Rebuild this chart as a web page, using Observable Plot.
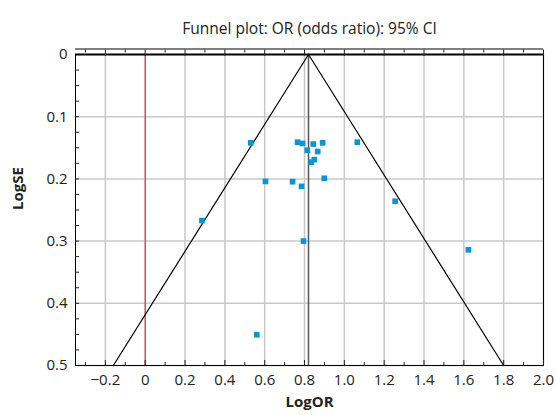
<!DOCTYPE html>
<html>
<head>
<meta charset="utf-8">
<script src="https://cdn.jsdelivr.net/npm/d3@7"></script>
<script src="https://cdn.jsdelivr.net/npm/@observablehq/plot@0.6"></script>
<style>
  html, body { margin: 0; padding: 0; background: white; }
</style>
</head>
<body>
<div id="chart"></div>
<script>
// Study estimates
const logOR = [0.530, 0.765, 0.790, 0.844, 0.891, 0.814, 0.866, 0.849, 0.834, 1.065,
               0.604, 0.740, 0.785, 0.899, 0.795, 0.285, 0.560, 1.255, 1.623];
const logSE = [0.142, 0.141, 0.143, 0.144, 0.142, 0.154, 0.156, 0.169, 0.173, 0.141,
               0.204, 0.2045, 0.212, 0.199, 0.300, 0.267, 0.4505, 0.236, 0.314];
const pooled = 0.82;
const z = 1.96;
const seMax = 0.5;

const xMajor = [-0.2, 0, 0.2, 0.4, 0.6, 0.8, 1.0, 1.2, 1.4, 1.6, 1.8, 2.0];
const xMinor = [-0.3, -0.1, 0.1, 0.3, 0.5, 0.7, 0.9, 1.1, 1.3, 1.5, 1.7, 1.9];
const yMajor = [0, 0.1, 0.2, 0.3, 0.4, 0.5];
const yMinor = [0.025, 0.05, 0.075, 0.1, 0.125, 0.15, 0.175, 0.2, 0.225, 0.25, 0.275,
                0.3, 0.325, 0.35, 0.375, 0.4, 0.425, 0.45, 0.475];

const titleText = "Funnel plot: OR (odds ratio): 95% CI";
const xLabel = "LogOR";
const yLabel = "LogSE";

const studies = logOR.map((x, i) => ({x, y: logSE[i]}));
const funnel = [
  {x: pooled - z * seMax, y: seMax},
  {x: pooled, y: 0},
  {x: pooled + z * seMax, y: seMax}
];
const fmt = d => d === 0 ? "0" : d3.format(".1f")(d);

const chart = Plot.plot({
  width: 556,
  height: 415,
  marginTop: 54,
  marginBottom: 50,
  marginLeft: 75,
  marginRight: 13,
  style: {fontFamily: "'Open Sans', sans-serif", fontSize: "15px", color: "#222", background: "white", overflow: "visible"},
  x: {domain: [-0.35, 2.0]},
  y: {domain: [0, 0.5], reverse: true},
  marks: [
    Plot.gridX(xMajor, {stroke: "#c8c8c8", strokeOpacity: 1, strokeWidth: 1.5}),
    Plot.gridY(yMajor.slice(1), {stroke: "#c8c8c8", strokeOpacity: 1, strokeWidth: 1.5}),
    Plot.ruleX([0], {stroke: "#e8141b", strokeWidth: 1}),
    Plot.ruleX([pooled], {stroke: "#555", strokeWidth: 1.5}),
    Plot.line(funnel, {x: "x", y: "y", stroke: "black", strokeWidth: 1.2}),
    Plot.dot(studies, {x: "x", y: "y", symbol: "square", r: 3.2, fill: "#0b95d8"}),
    Plot.frame({stroke: "black", strokeWidth: 1}),
    Plot.ruleY([0], {stroke: "black", strokeWidth: 2}),
    // top secondary axis line with hanging ticks
    Plot.ruleY([0], {stroke: "black", strokeWidth: 1, dy: -5.5}),
    Plot.axisX(xMajor, {anchor: "top", tickSize: 6, dy: 0.5, fill: "none", label: null}),
    Plot.axisX(xMinor, {anchor: "top", tickSize: 3, dy: -2.5, fill: "none", label: null}),
    // bottom inward ticks
    Plot.axisX(xMajor, {anchor: "bottom", tickSize: 5, dy: -5, fill: "none", label: null}),
    Plot.axisX(xMinor, {anchor: "bottom", tickSize: 3, dy: -3, fill: "none", label: null}),
    Plot.axisX(xMajor, {anchor: "bottom", tickSize: 0, tickPadding: 9, tickFormat: fmt, label: null}),
    // left inward ticks
    Plot.axisY(yMinor, {anchor: "left", tickSize: 4, dx: 4, fill: "none", label: null}),
    Plot.axisY(yMajor, {anchor: "left", tickSize: 0, tickPadding: 8, tickFormat: fmt, label: null}),
    // titles
    Plot.text([titleText], {text: d => d, frameAnchor: "top", dy: -32, fontSize: 15.5}),
    Plot.text([xLabel], {text: d => d, frameAnchor: "bottom", dy: 41, fontWeight: "bold", fontSize: 15}),
    Plot.text([yLabel], {text: d => d, frameAnchor: "left", dx: -57, rotate: -90, fontWeight: "bold", fontSize: 15})
  ]
});
document.getElementById("chart").appendChild(chart);
</script>
</body>
</html>
